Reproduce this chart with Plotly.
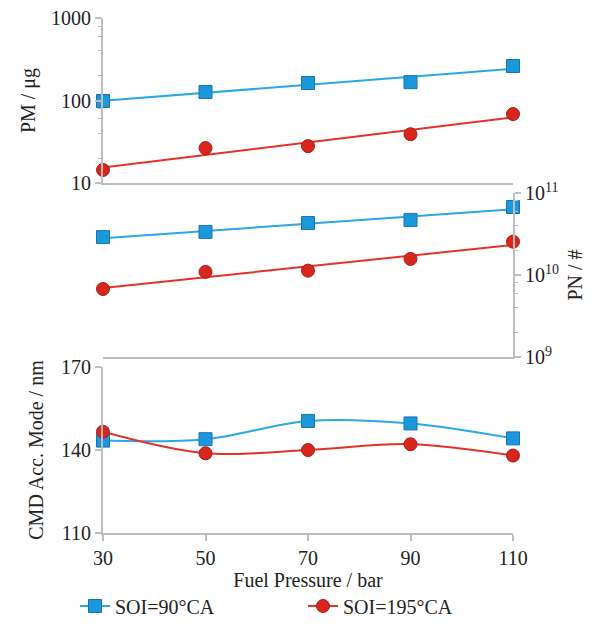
import numpy as np
import plotly.graph_objects as go

pressure = [30, 50, 70, 90, 110]
pm_soi90 = [98.5, 127, 163, 167, 262]
pm_soi195 = [14.4, 26.5, 28, 39, 68.5]
pn_soi90 = [2.9e10, 3.35e10, 4.3e10, 4.7e10, 6.75e10]
pn_soi195 = [6.75e9, 1.09e10, 1.13e10, 1.57e10, 2.55e10]
cmd_soi90 = [143.4, 143.9, 150.5, 149.6, 144.2]
cmd_soi195 = [146.6, 138.8, 140.0, 142.1, 138.0]
names = ["SOI=90°CA", "SOI=195°CA"]

FONT = "Liberation Serif"
BLUE_LINE = "#2aa8e6"
BLUE_MK = "#1b98dc"
BLUE_EDGE = "#1a73ad"
RED_LINE = "#e2322a"
RED_MK = "#d8251d"
RED_EDGE = "#a51d16"
AX = "#bdbdbd"

OFF = 8
L, T, R, B = 103 - OFF, 18 - OFF, 598 - 513 + OFF, 628 - 533 + OFF
PH = 628 - T - B


def logfit(x, y):
    x = np.asarray(x, float)
    k, b = np.polyfit(x, np.log10(y), 1)
    xs = np.array([x.min(), x.max()])
    return xs, 10 ** (k * xs + b)


sq = dict(symbol="square", size=13, color=BLUE_MK, line=dict(color=BLUE_EDGE, width=1))
ci = dict(symbol="circle", size=13, color=RED_MK, line=dict(color=RED_EDGE, width=1))

fig = go.Figure()

for ys, mk, lc in [(pm_soi90, sq, BLUE_LINE), (pm_soi195, ci, RED_LINE)]:
    fx, fy = logfit(pressure, ys)
    fig.add_trace(go.Scatter(x=fx, y=fy, mode="lines", line=dict(color=lc, width=2),
                             xaxis="x3", yaxis="y", showlegend=False, cliponaxis=False))
    fig.add_trace(go.Scatter(x=pressure, y=ys, mode="markers", marker=mk,
                             xaxis="x3", yaxis="y", showlegend=False, cliponaxis=False))

for ys, mk, lc in [(pn_soi90, sq, BLUE_LINE), (pn_soi195, ci, RED_LINE)]:
    fx, fy = logfit(pressure, ys)
    fig.add_trace(go.Scatter(x=fx, y=fy, mode="lines", line=dict(color=lc, width=2),
                             xaxis="x2", yaxis="y2", showlegend=False, cliponaxis=False))
    fig.add_trace(go.Scatter(x=pressure, y=ys, mode="markers", marker=mk,
                             xaxis="x2", yaxis="y2", showlegend=False, cliponaxis=False))

for ys, mk, lc, nm in [(cmd_soi90, sq, BLUE_LINE, names[0]), (cmd_soi195, ci, RED_LINE, names[1])]:
    fig.add_trace(go.Scatter(x=pressure, y=ys, mode="lines+markers", name=nm, marker=mk,
                             line=dict(color=lc, width=2, shape="spline", smoothing=1.0),
                             xaxis="x", yaxis="y3", cliponaxis=False))

tickfont = dict(family=FONT, size=20, color="#222")
titlefont = dict(family=FONT, size=20, color="#222")


def dom(top_px, bot_px):
    return [(533 - bot_px) / PH, (533 - top_px) / PH]


D_TOP = dom(18, 183)
D_MID = dom(193, 357)
D_BOT = dom(367, 533)

xcommon = dict(range=[30, 110], showgrid=False, zeroline=False, showline=True,
               linecolor=AX, linewidth=2, automargin=False)

fig.update_layout(
    width=598, height=628,
    margin=dict(l=L, r=R, t=T, b=B, autoexpand=False),
    paper_bgcolor="white", plot_bgcolor="white",
    font=dict(family=FONT, size=20, color="#222"),
    xaxis=dict(**xcommon, anchor="y3", domain=[0, 1], ticks="outside", ticklen=6,
               tickcolor=AX, tickwidth=1.5, tickvals=pressure, tickfont=tickfont,
               ticklabeloverflow="allow",
               title=dict(text="Fuel Pressure / bar", font=titlefont, standoff=2)),
    xaxis2=dict(**xcommon, anchor="y2", domain=[0, 1], showticklabels=False, matches="x"),
    xaxis3=dict(**xcommon, anchor="y", domain=[0, 1], showticklabels=False, matches="x"),
    yaxis=dict(type="log", domain=D_TOP, anchor="x3", range=[1, 3], showgrid=False,
               zeroline=False, showline=True, linecolor=AX, linewidth=2, automargin=False,
               ticks="outside", ticklen=6, tickcolor=AX, tickwidth=1.5,
               ticklabeloverflow="allow",
               tickvals=[10, 100, 1000], ticktext=["10", "100", "1000"], tickfont=tickfont,
               minor=dict(tickvals=[20, 40, 60, 80, 200, 400, 600, 800], ticks="outside",
                          ticklen=3, tickcolor=AX, tickwidth=1),
               title=dict(text="PM / μg", font=titlefont, standoff=10)),
    yaxis2=dict(type="log", domain=D_MID, anchor="x2", side="right", range=[9, 11],
                showgrid=False, zeroline=False, showline=True, linecolor=AX, linewidth=2,
                automargin=False, ticklabeloverflow="allow",
                ticks="outside", ticklen=6, tickcolor=AX, tickwidth=1.5,
                tickvals=[1e9, 1e10, 1e11],
                ticktext=["10<sup>9</sup>", "10<sup>10</sup>", "10<sup>11</sup>"],
                tickfont=tickfont,
                minor=dict(tickvals=[2e9, 4e9, 6e9, 8e9, 2e10, 4e10, 6e10, 8e10],
                           ticks="outside", ticklen=3, tickcolor=AX, tickwidth=1),
                title=dict(text="PN / #", font=titlefont, standoff=10)),
    yaxis3=dict(domain=D_BOT, anchor="x", range=[110, 170], showgrid=False, zeroline=False,
                showline=True, linecolor=AX, linewidth=2, automargin=False,
                ticklabeloverflow="allow", ticks="outside", ticklen=6,
                tickcolor=AX, tickwidth=1.5, tickvals=[110, 140, 170], tickfont=tickfont,
                title=dict(text="CMD Acc. Mode / nm", font=titlefont, standoff=12)),
    legend=dict(orientation="h", x=(75 - 103) / 410, xanchor="left",
                y=-(606 - 533) / PH, yanchor="middle",
                font=dict(family=FONT, size=20, color="#222"),
                entrywidth=183, entrywidthmode="pixels", bgcolor="rgba(0,0,0,0)"),
    showlegend=True,
)

fig.write_html("out.html")
